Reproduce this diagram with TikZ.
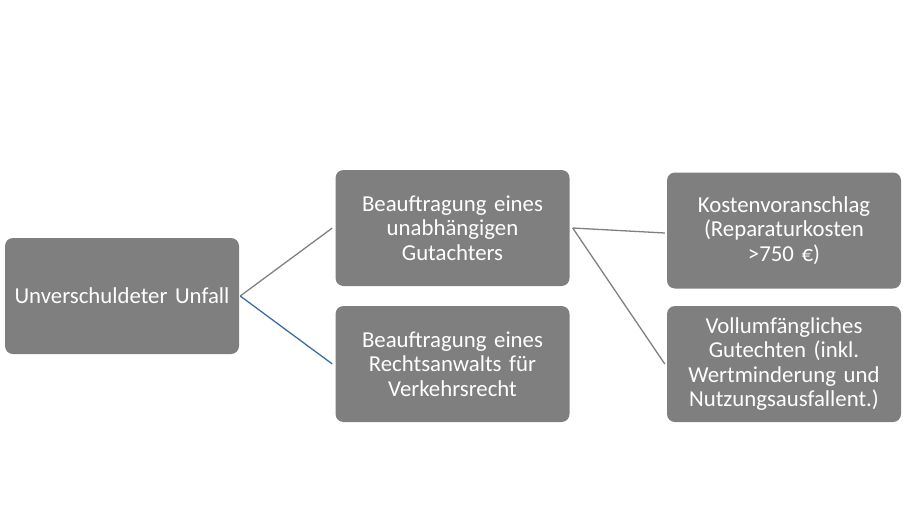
\documentclass[tikz,border=0pt]{standalone}
\usepackage{fontspec}
\setmainfont{Carlito}
\usepackage{tikz}
\usetikzlibrary{positioning}
\definecolor{BoxGrey}{HTML}{7F7F7F}
\definecolor{LineGrey}{HTML}{808080}
\definecolor{LineBlue}{HTML}{3A6EA5}
\tikzset{
  stepbox/.style={fill=BoxGrey, rounded corners=8pt, align=center, text=white, minimum width=234pt, minimum height=116pt, text width=226pt, inner sep=0pt, font=\fontsize{22.8}{24.5}\selectfont},
  link/.style={draw=LineGrey, line width=1.3pt},
  bluelink/.style={draw=LineBlue, line width=1.3pt}
}
\begin{document}
\begin{tikzpicture}[x=1pt, y=-1pt]
  \useasboundingbox (0,0) rectangle (904,525);
  \node[stepbox] (unfall) at (122,296) {Unverschuldeter Unfall};
  \node[stepbox] (gutachter) at (452.5,228) {Beauftragung eines\\unabhängigen\\Gutachters};
  \node[stepbox] (anwalt) at (452.5,364) {Beauftragung eines\\Rechtsanwalts für\\Verkehrsrecht};
  \node[stepbox] (kosten) at (784,230.5) {Kostenvoranschlag\\(Reparaturkosten\\>750 €)};
  \node[stepbox] (gutachten) at (784,364) {Vollumfängliches\\Gutechten (inkl.\\Wertminderung und\\Nutzungsausfallent.)};

  \draw[link] ([xshift=1pt]unfall.east) -- ([xshift=-3pt]gutachter.west);
  \draw[bluelink] ([xshift=1pt]unfall.east) -- ([xshift=-3pt]anwalt.west);
  \draw[link] ([xshift=3pt]gutachter.east) -- ([xshift=-2pt,yshift=-2.5pt]kosten.west);
  \draw[link] ([xshift=3pt]gutachter.east) -- ([xshift=-2pt]gutachten.west);
\end{tikzpicture}
\end{document}
